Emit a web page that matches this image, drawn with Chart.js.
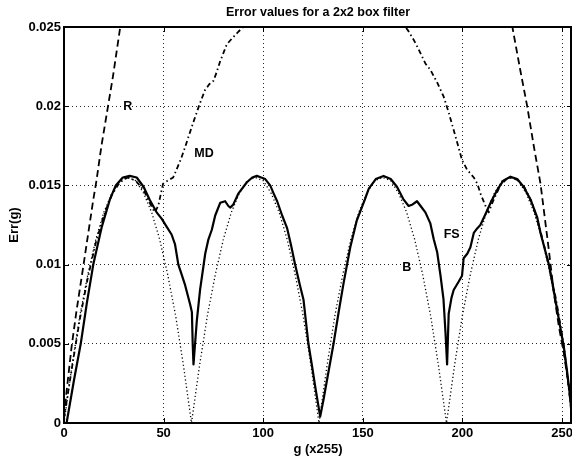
<!DOCTYPE html>
<html>
<head>
<meta charset="utf-8">
<script src="https://cdn.jsdelivr.net/npm/chart.js@4"></script>
<style>
html, body { margin: 0; padding: 0; background: #fff; }
</style>
</head>
<body>
<canvas id="myChart" width="572" height="462"></canvas>
<script>
const xTicks = [0, 50, 100, 150, 200, 250];
const yTicks = [0, 0.005, 0.01, 0.015, 0.02, 0.025];
const yTickLabels = ["0", "0.005", "0.01", "0.015", "0.02", "0.025"];

// FS (solid)
const fsX = [1.3, 5, 8.4, 11.5, 14.7, 19, 23, 26, 29.5, 33, 36.5, 40, 43, 46.5, 49, 51.5, 54, 55.7, 57.4, 59,
	60.8, 63.3, 64.2, 64.6, 65, 66.7, 68.3, 70.9, 72.5, 74.2, 75.9, 78.4, 80.9, 82.5, 83.5, 85, 87.6, 91.8, 94.5, 96.8,
	99, 101, 103.5, 105.2, 107, 109.5, 112, 114, 116, 118.6, 120.2, 122.7, 124.5, 126.1, 128.6, 130.3, 132, 135.3, 138, 140.3,
	143.7, 147, 151, 153, 156.5, 160.4, 164, 167.2, 170.5, 173, 175, 177.2, 179, 181.4, 183.9, 185.6, 187.3, 189, 190.5, 191.5,
	192.3, 193.1, 194.5, 195.6, 198, 199.8, 200.6, 202.5, 204, 205.7, 207.5, 209, 211.6, 214.5, 217.4, 220.5, 224.1, 227.5, 230.8, 234.2,
	237.5, 239.2, 241.3, 243.4, 245.5, 247.6, 250.9, 252.6, 254.2, 255];
const fsY = [0, 0.0027, 0.0050, 0.0076, 0.0100, 0.0124, 0.0141, 0.0150, 0.0155, 0.0156, 0.0155, 0.0149, 0.0141, 0.0133, 0.0129, 0.0124, 0.0119, 0.0113, 0.0100, 0.0094,
	0.0087, 0.0075, 0.0070, 0.0050, 0.0037, 0.0065, 0.0084, 0.0107, 0.0116, 0.0122, 0.0131, 0.0139, 0.0140, 0.0137, 0.0136, 0.0138, 0.0145, 0.0152, 0.0155, 0.0156,
	0.0155, 0.0154, 0.0150, 0.0145, 0.0140, 0.0131, 0.0123, 0.0112, 0.0100, 0.0086, 0.0078, 0.0050, 0.0036, 0.0023, 0.0004, 0.0015, 0.0027, 0.0050, 0.0071, 0.0088,
	0.0111, 0.0128, 0.0141, 0.0148, 0.0154, 0.0156, 0.0154, 0.0149, 0.0141, 0.0137, 0.0138, 0.0140, 0.0137, 0.0133, 0.0126, 0.0116, 0.0108, 0.0093, 0.0078, 0.0057,
	0.0037, 0.0069, 0.0079, 0.0084, 0.0089, 0.0093, 0.0104, 0.0107, 0.0111, 0.0120, 0.0123, 0.0125, 0.0132, 0.0140, 0.0147, 0.0153, 0.01555, 0.0154, 0.0149, 0.0141,
	0.0130, 0.0120, 0.0110, 0.0100, 0.0086, 0.0071, 0.0048, 0.0032, 0.0015, 0];

// MD (dash-dot)
const mdX = [0, 4, 8, 12, 16, 20, 24, 28, 32, 36, 40, 43, 45.5, 47.3, 49.7, 52, 54.8, 56.5, 58.8, 61,
	63.1, 65.5, 68, 70.7, 73, 75, 76.5, 78.3, 81.7, 84.5, 87.5, 90, 94, 128, 166, 170, 172.6, 175.5, 178, 181.4,
	183.9, 185.6, 187.3, 190.6, 193.1, 196.5, 199.8, 202.3, 205.7, 207.5, 209, 211.6, 213.2, 215, 219, 223, 227, 231, 235, 239,
	243, 247, 251, 255];
const mdY = [0.0003, 0.0035, 0.0066, 0.0092, 0.0114, 0.0131, 0.0144, 0.0152, 0.0155, 0.0153, 0.0147, 0.0139, 0.0133, 0.0137, 0.0151, 0.0153, 0.0155, 0.0160, 0.0167, 0.0175,
	0.0183, 0.0192, 0.0201, 0.0210, 0.0214, 0.0216, 0.0221, 0.0228, 0.0239, 0.0243, 0.0247, 0.0250, 0.0256, 0.0270, 0.0256, 0.0252, 0.0248, 0.0242, 0.0236, 0.0227,
	0.0223, 0.0219, 0.0215, 0.0206, 0.0196, 0.0181, 0.0166, 0.0160, 0.0155, 0.0151, 0.0145, 0.0137, 0.0133, 0.0139, 0.0150, 0.0155, 0.0154, 0.0149, 0.0139, 0.0122,
	0.0102, 0.0078, 0.0048, 0.0004];

// R (dashed), off the top of the axes in the middle
const rX = [0, 1.3, 3.8, 6.3, 9.7, 12.2, 14.7, 16.3, 18.8, 22.1, 24.6, 28, 30, 128,
	223, 225.5, 229, 232.5, 235.8, 239.2, 240.8, 243.4, 245.9, 248.4, 250.9, 253.4, 255];
const rY = [0.0004, 0.0020, 0.0048, 0.0071, 0.0099, 0.0120, 0.0141, 0.0153, 0.0175, 0.0200, 0.0219, 0.0248, 0.0266, null,
	0.0265, 0.0247, 0.0223, 0.0200, 0.0175, 0.0151, 0.0135, 0.0109, 0.0082, 0.0061, 0.0044, 0.0023, 0.0005];

// B (dotted)
const bX = [0, 4, 8, 12, 16, 20, 24, 28, 32, 36, 40, 44, 48, 52, 56, 60,
	64, 68, 72, 76, 80, 84, 88, 92, 96, 100, 104, 108, 112, 116, 120, 124,
	128, 132, 136, 140, 144, 148, 152, 156, 160, 164, 168, 172, 176, 180, 184, 188,
	192, 196, 200, 204, 208, 212, 216, 220, 224, 228, 232, 236, 240, 244, 248, 252, 255];
const bY = [0, 0.0036, 0.0068, 0.0094, 0.0116, 0.0133, 0.0145, 0.0153, 0.0155, 0.0153, 0.0145, 0.0133, 0.0116, 0.0094, 0.0068, 0.0036,
	0, 0.0036, 0.0068, 0.0094, 0.0116, 0.0133, 0.0145, 0.0153, 0.0155, 0.0153, 0.0145, 0.0133, 0.0116, 0.0094, 0.0068, 0.0036,
	0, 0.0036, 0.0068, 0.0094, 0.0116, 0.0133, 0.0145, 0.0153, 0.0155, 0.0153, 0.0145, 0.0133, 0.0116, 0.0094, 0.0068, 0.0036,
	0, 0.0036, 0.0068, 0.0094, 0.0116, 0.0133, 0.0145, 0.0153, 0.0155, 0.0153, 0.0145, 0.0133, 0.0116, 0.0094, 0.0068, 0.0036, 0.0010];

// curve names written inside the plot
const curveLabels = ["R", "MD", "B", "FS"];
const labelX = [32, 70.3, 172, 194.6];
const labelY = [0.02, 0.017, 0.0098, 0.0119];

const fontFamily = "'Liberation Sans', Arial, Helvetica, sans-serif";

function points(xs, ys) {
	return xs.map(function (x, i) { return { x: x, y: ys[i] }; });
}

var framePlugin = {
	id: "frame",
	afterDraw: function (chart) {
		var ctx = chart.ctx;
		var a = chart.chartArea;
		var xs = chart.scales.x;
		var ys = chart.scales.y;
		ctx.save();
		ctx.strokeStyle = "#000";
		ctx.lineWidth = 2;
		ctx.strokeRect(a.left, a.top, a.right - a.left - 1, a.bottom - a.top);
		ctx.lineWidth = 1;
		ctx.beginPath();
		xTicks.forEach(function (v) {
			var px = Math.round(xs.getPixelForValue(v)) + 0.5;
			ctx.moveTo(px, a.bottom); ctx.lineTo(px, a.bottom - 5);
			ctx.moveTo(px, a.top); ctx.lineTo(px, a.top + 5);
		});
		yTicks.forEach(function (v) {
			var py = Math.round(ys.getPixelForValue(v)) + 0.5;
			ctx.moveTo(a.left, py); ctx.lineTo(a.left + 5, py);
			ctx.moveTo(a.right, py); ctx.lineTo(a.right - 5, py);
		});
		ctx.stroke();
		ctx.font = "bold 12.5px " + fontFamily;
		ctx.fillStyle = "#000";
		ctx.textAlign = "center";
		ctx.textBaseline = "middle";
		curveLabels.forEach(function (t, i) {
			ctx.fillText(t, xs.getPixelForValue(labelX[i]), ys.getPixelForValue(labelY[i]));
		});
		ctx.restore();
	}
};

var ctx = document.getElementById("myChart").getContext("2d");
var myChart = new Chart(ctx, {
	type: "line",
	data: {
		datasets: [
			{ label: "FS", data: points(fsX, fsY), borderColor: "#000", borderWidth: 2.2 },
			{ label: "MD", data: points(mdX, mdY), borderColor: "#000", borderWidth: 1.8, borderDash: [5, 3, 1.5, 3] },
			{ label: "R", data: points(rX, rY), borderColor: "#000", borderWidth: 1.8, borderDash: [7, 4] },
			{ label: "B", data: points(bX, bY), borderColor: "#000", borderWidth: 1.3, borderDash: [1.2, 2.5] },
		],
	},
	options: {
		responsive: false,
		devicePixelRatio: 1,
		animation: false,
		layout: { padding: 0 },
		elements: {
			point: { radius: 0 },
			line: { tension: 0, fill: false, borderJoinStyle: "round" },
		},
		plugins: {
			legend: { display: false },
			tooltip: { enabled: false },
			title: {
				display: true,
				fullSize: false,
				text: "Error values for a 2x2 box filter",
				color: "#000",
				font: { family: fontFamily, size: 12.5, weight: "bold" },
				padding: { top: 5, bottom: 7 },
			},
		},
		scales: {
			x: {
				type: "linear",
				min: 0,
				max: 255,
				afterBuildTicks: function (scale) {
					scale.ticks = xTicks.map(function (v) { return { value: v }; });
				},
				afterFit: function (scale) {
					scale.height = 39;
					scale.paddingLeft = 0;
					scale.paddingRight = 0;
				},
				grid: { color: "rgba(0,0,0,0.85)", lineWidth: 1, drawTicks: false },
				border: { display: false, dash: [1, 3] },
				ticks: {
					color: "#000",
					padding: 3,
					maxRotation: 0,
					font: { family: fontFamily, size: 13, weight: "bold" },
				},
				title: {
					display: true,
					text: "g (x255)",
					color: "#000",
					font: { family: fontFamily, size: 13, weight: "bold" },
					padding: { top: 0, bottom: 5 },
				},
			},
			y: {
				min: 0,
				max: 0.025,
				afterBuildTicks: function (scale) {
					scale.ticks = yTicks.map(function (v) { return { value: v }; });
				},
				afterFit: function (scale) {
					scale.width = 64;
				},
				grid: { color: "rgba(0,0,0,0.85)", lineWidth: 1, drawTicks: false },
				border: { display: false, dash: [1, 3] },
				ticks: {
					color: "#000",
					padding: 3,
					font: { family: fontFamily, size: 13, weight: "bold" },
					callback: function (value, index) {
						return yTickLabels[index];
					},
				},
				title: {
					display: true,
					text: "Err(g)",
					color: "#000",
					font: { family: fontFamily, size: 13, weight: "bold" },
					padding: { top: 7, bottom: 0 },
				},
			},
		},
	},
	plugins: [framePlugin],
});
</script>
</body>
</html>
